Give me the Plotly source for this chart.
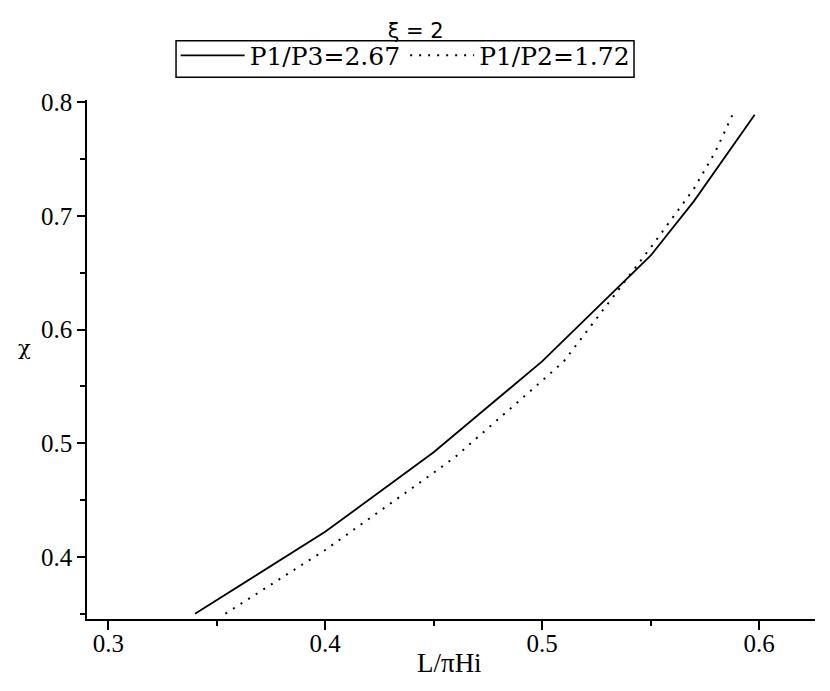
import plotly.graph_objects as go

# Data
solid_x = [0.340, 0.400, 0.450, 0.500, 0.550, 0.570, 0.598]
solid_y = [0.350, 0.422, 0.492, 0.572, 0.665, 0.713, 0.789]

dot_x = [0.354, 0.400, 0.450, 0.460, 0.500, 0.510, 0.550, 0.570, 0.580, 0.588]
dot_y = [0.350, 0.406, 0.474, 0.488, 0.555, 0.572, 0.672, 0.724, 0.757, 0.790]

solid_name = "P1/P3=2.67"
dot_name = "P1/P2=1.72"
title_text = "ξ = 2"
x_title = "L/πHi"
y_title = "χ"

x_ticks = [0.3, 0.4, 0.5, 0.6]
y_ticks = [0.4, 0.5, 0.6, 0.7, 0.8]

serif = "DejaVu Serif"
times = "Liberation Serif"

fig = go.Figure()
fig.add_trace(go.Scatter(x=solid_x, y=solid_y, mode="lines", name=solid_name,
                         line=dict(color="black", width=1.8)))
fig.add_trace(go.Scatter(x=dot_x, y=dot_y, mode="lines", name=dot_name,
                         line=dict(color="black", width=2, dash="2px,7px")))

# page body has an 8px default margin: compensate in the figure size/margins
fig.update_layout(
    width=822, height=683,
    margin=dict(l=79, r=15, t=92, b=72, autoexpand=False),
    paper_bgcolor="white", plot_bgcolor="white",
    title=dict(text=title_text, x=0.496, xanchor="center", y=0.967, yanchor="middle",
               font=dict(family="DejaVu Sans", size=21, color="black")),
    legend=dict(orientation="h", x=0.437, xanchor="center", y=1.13, yanchor="top",
                borderwidth=0, bgcolor="rgba(0,0,0,0)",
                font=dict(family=serif, size=25, color="black"),
                itemwidth=64, tracegroupgap=0),
    showlegend=True,
    shapes=[
        dict(type="rect", xref="paper", yref="paper", x0=0.1223, x1=0.7514,
             y0=1.0437, y1=1.1143, line=dict(color="black", width=1.5),
             fillcolor="rgba(0,0,0,0)"),
    ],
    annotations=[
        dict(text=x_title, xref="paper", yref="paper", x=0.498, y=-0.0857,
             xanchor="center", yanchor="middle", showarrow=False,
             font=dict(family=times, size=27, color="black")),
        dict(text=y_title, xref="paper", yref="paper", x=-0.0861, y=0.5226,
             xanchor="center", yanchor="middle", showarrow=False,
             font=dict(family=serif, size=21, color="black")),
    ],
)

fig.update_xaxes(
    range=[0.2902, 0.6258], tickvals=x_ticks, ticktext=[f"{v:.1f}" for v in x_ticks],
    showgrid=False, zeroline=False, showline=True, linecolor="black", linewidth=1.5,
    ticks="outside", ticklen=9, tickwidth=1.5, tickcolor="black",
    minor=dict(dtick=0.05, tick0=0.3, ticks="outside", ticklen=5, tickwidth=1.5, tickcolor="black"),
    tickfont=dict(family=times, size=25, color="black"), automargin=False,
    ticklabelstandoff=-8,
)
fig.update_yaxes(
    range=[0.3453, 0.802], tickvals=y_ticks, ticktext=[f"{v:.1f}" for v in y_ticks],
    showgrid=False, zeroline=False, showline=True, linecolor="black", linewidth=1.5,
    ticks="outside", ticklen=8, tickwidth=1.5, tickcolor="black",
    minor=dict(dtick=0.05, tick0=0.35, ticks="outside", ticklen=5, tickwidth=1.5, tickcolor="black"),
    tickfont=dict(family=times, size=25, color="black"), automargin=False,
)

fig.write_html("out.html")
